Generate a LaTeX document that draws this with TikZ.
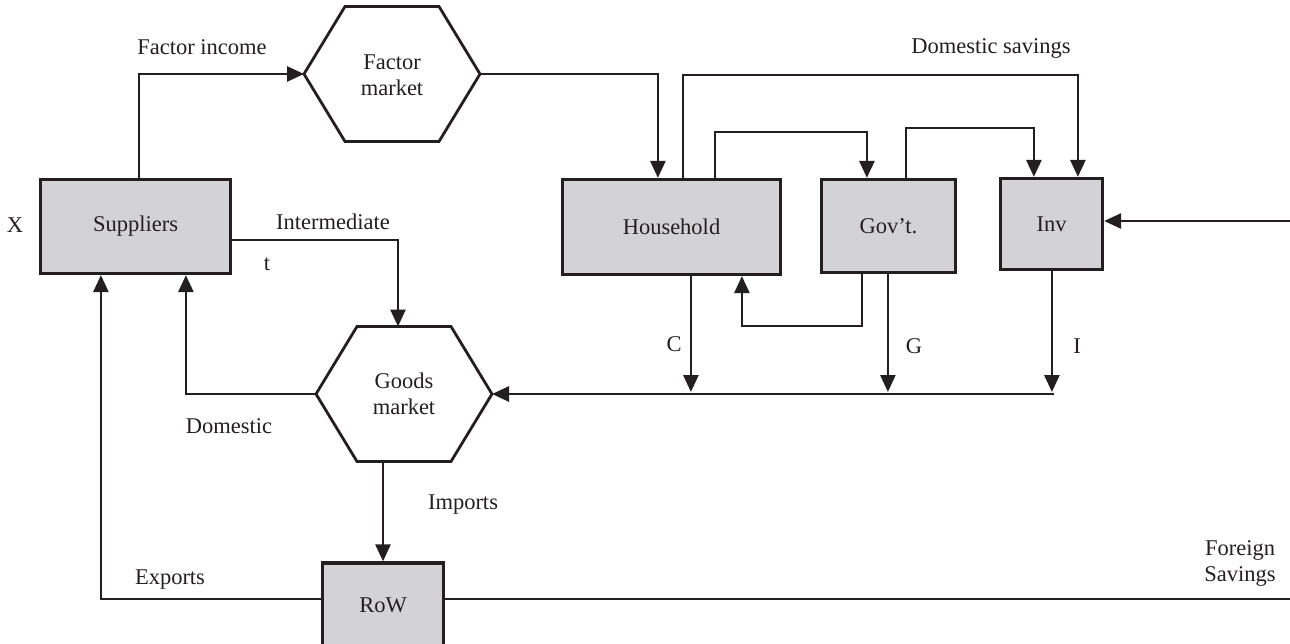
\documentclass[tikz,border=0pt]{standalone}
\usepackage{fontspec}
\setmainfont{Liberation Serif}
\usetikzlibrary{arrows.meta,calc}
\definecolor{ink}{HTML}{231F20}
\definecolor{boxgray}{HTML}{D3D2D4}
\tikzset{
  lbl/.style={anchor=base, inner sep=0pt, font=\fontsize{22.5}{26}\selectfont, text=ink},
  txt/.style={inner sep=0pt, align=center, font=\fontsize{22.5}{26}\selectfont, text=ink},
  box/.style={draw=ink, fill=boxgray, line width=3.2pt, inner sep=0pt, font=\fontsize{22.5}{26}\selectfont, text=ink},
  flow/.style={draw=ink, line width=2.6pt, -{Triangle[length=17pt,width=15pt]}},
  plainflow/.style={draw=ink, line width=2.6pt},
  hexline/.style={draw=ink, line width=2.8pt, line join=miter}
}
\newcommand{\mkhexagon}[3]{%
  \coordinate (#1W)  at (#2-88,#3);
  \coordinate (#1NW) at (#2-47,#3-67.5);
  \coordinate (#1NE) at (#2+47,#3-67.5);
  \coordinate (#1E)  at (#2+88,#3);
  \coordinate (#1SE) at (#2+47,#3+67.5);
  \coordinate (#1SW) at (#2-47,#3+67.5);
  \draw[hexline] (#1W) -- (#1NW) -- (#1NE) -- (#1E) -- (#1SE) -- (#1SW) -- cycle;
}
\begin{document}
\begin{tikzpicture}[x=1pt,y=-1pt]
\useasboundingbox (0,0) rectangle (1290,644);
\clip (0,0) rectangle (1290,644);

% hexagons
\mkhexagon{fm}{392}{74}
\node[txt] (fmt) at (392,75.4) {Factor\\market};
\mkhexagon{gm}{404}{394}
\node[txt] (gmt) at (404,394.3) {Goods\\market};

% boxes
\node[box, minimum width=190pt, minimum height=94pt] (sup) at (135.5,226.5) {Suppliers};
\node[box, minimum width=218pt, minimum height=95pt] (hh) at (671.5,227) {Household};
\node[box, minimum width=134pt, minimum height=93pt] (gov) at (888.5,226) {Gov’t.};
\node[box, minimum width=102pt, minimum height=91pt] (inv) at (1051.5,224) {Inv};
\node[box, minimum width=121pt, minimum height=84pt] (row) at (383,605) {RoW};

% free ends
\coordinate (invin) at (1292,221);
\coordinate (fsend) at (1292,599);
\coordinate (busR) at (1054,394);

% connectors
\draw[flow] ($(sup.north west)+(100,0)$) |- (fmW);
\draw[flow] (fmE) -| ($(hh.north west)+(97,0)$);
\draw[flow] ($(hh.north west)+(122,0)$) -- ++(0,-103) -| ($(inv.north west)+(79,0)$);
\draw[flow] ($(hh.north west)+(154,0)$) -- ++(0,-46) -| ($(gov.north west)+(47,0)$);
\draw[flow] ($(gov.north west)+(86,0)$) -- ++(0,-50) -| ($(inv.north west)+(35,0)$);
\draw[flow] (invin) -- (invin -| inv.east);

\draw[flow, shorten >=2pt] ($(hh.south west)+(130,0)$) coordinate (c0) -- (c0 |- busR);
\draw[flow, shorten >=2pt] ($(gov.south west)+(68,0)$) coordinate (g0) -- (g0 |- busR);
\draw[flow, shorten >=2pt] ($(inv.south west)+(53,0)$) coordinate (i0) -- (i0 |- busR);
\draw[flow] (busR) -- (gmE);
\draw[flow] ($(gov.south west)+(42,0)$) -- ++(0,52) -| ($(hh.south west)+(181,0)$);

\draw[flow] ($(sup.east)+(0,13.5)$) -| ($(gmNW)+(41,0)$);
\draw[flow] (gmW) -| ($(sup.south west)+(147,0)$);
\draw[flow] (row.north |- gmSW) -- (row.north);
\draw[flow] ($(row.west)+(0,-6)$) -| ($(sup.south west)+(62,0)$);
\draw[plainflow] ($(row.east)+(0,-6)$) coordinate (r0) -- (fsend |- r0);

% labels
\node[lbl] (lfi) at (202,55) {Factor income};
\node[lbl] (lds) at (991,54) {Domestic savings};
\node[lbl] (lx) at (15,233) {X};
\node[lbl] (lint) at (333,230) {Intermediate};
\node[lbl] (lt) at (267,271) {t};
\node[lbl] (lc) at (674,351) {C};
\node[lbl] (lg) at (914,353) {G};
\node[lbl] (li) at (1077,353) {I};
\node[lbl] (ldom) at (229,433) {Domestic};
\node[lbl] (limp) at (463,509) {Imports};
\node[lbl] (lexp) at (170,584) {Exports};
\node[txt] (lfs) at (1240,563) {Foreign\\Savings};
\end{tikzpicture}
\end{document}
